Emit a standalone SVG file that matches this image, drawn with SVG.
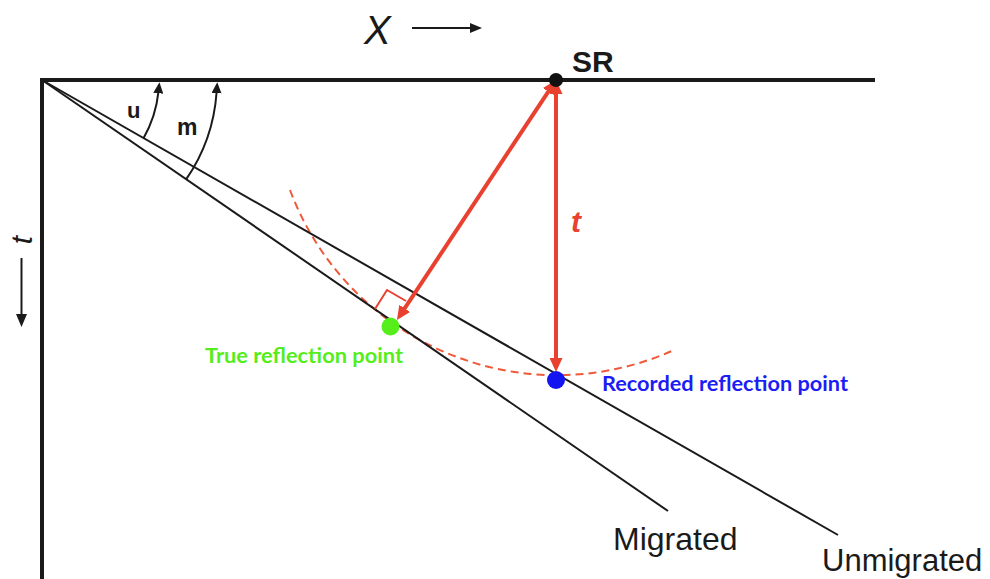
<svg xmlns="http://www.w3.org/2000/svg" width="990" height="579" viewBox="0 0 990 579">
<style>
.ink{stroke:#1a1a1a;fill:none}
.thin{stroke:#1a1a1a;stroke-width:2;fill:none}
.red{stroke:#e84130;stroke-width:4;fill:none}
.lbl{font-family:"Liberation Sans",Arial,sans-serif;fill:#1a1a1a}
.cal{font-family:Lato,"Open Sans",sans-serif;font-weight:bold}
</style>
<defs>
<marker id="redHead" markerUnits="userSpaceOnUse" markerWidth="14" markerHeight="13" viewBox="0 0 14 13" refX="4" refY="6.5" orient="auto-start-reverse">
<path d="M0,0 L14,6.5 L0,13 z" fill="#e84130"/>
</marker>
<marker id="blkHead" markerUnits="userSpaceOnUse" markerWidth="11" markerHeight="10" viewBox="0 0 11 10" refX="1" refY="5" orient="auto">
<path d="M0,0 L11,5 L0,10 z" fill="#1a1a1a"/>
</marker>
</defs>
<rect width="990" height="579" fill="#ffffff"/>

<g id="wavefront">
<path d="M290,190 A285,285 0 0 0 674,350" fill="none" stroke="#f0583a" stroke-width="2" stroke-dasharray="8 5"/>
</g>

<g id="reflectors">
<line id="migrated-line" class="thin" x1="42" y1="80" x2="668" y2="511"/>
<line id="unmigrated-line" class="thin" x1="42" y1="80" x2="838" y2="535"/>
</g>

<g id="angles">
<path d="M143.5,138.2 A117,117 0 0 0 158.4,92.2" class="thin" marker-end="url(#blkHead)"/>
<path d="M186.1,179.4 A175,175 0 0 0 216.6,92.2" class="thin" marker-end="url(#blkHead)"/>
<text class="lbl" x="127" y="118" font-size="22" font-weight="bold">u</text>
<text class="lbl" x="177" y="135" font-size="23" font-weight="bold">m</text>
</g>

<g id="connectors">
<line class="red" x1="556" y1="90" x2="556" y2="362" marker-start="url(#redHead)" marker-end="url(#redHead)"/>
<line class="red" x1="550.5" y1="88.3" x2="402.5" y2="311.7" marker-start="url(#redHead)" marker-end="url(#redHead)"/>
<path d="M375,309 L387,290 L406,301" fill="none" stroke="#e84130" stroke-width="2"/>
</g>

<g id="axes">
<path d="M42,579 V80 H875" class="ink" stroke-width="4" stroke-linejoin="miter"/>
<text class="lbl" x="364" y="44" font-size="40" font-style="italic">X</text>
<line x1="412" y1="28" x2="471" y2="28" stroke="#1a1a1a" stroke-width="2"/>
<polygon points="470,23 482,28 470,33" fill="#1a1a1a"/>
<text class="lbl" transform="translate(32,240) rotate(-90)" text-anchor="middle" font-size="30" font-style="italic">t</text>
<line x1="21.5" y1="258" x2="21.5" y2="315" stroke="#1a1a1a" stroke-width="2"/>
<polygon points="16,314 27,314 21.5,327" fill="#1a1a1a"/>
</g>

<g id="sr-node">
<circle cx="556" cy="80" r="7" fill="#111111"/>
<text class="lbl" x="572" y="72" font-size="30" font-weight="bold">SR</text>
</g>

<g id="t-label">
<text class="lbl" x="571" y="232" font-size="30" font-weight="bold" font-style="italic" style="fill:#e84130">t</text>
</g>

<g id="true-reflection-point">
<circle cx="390.5" cy="326.5" r="9" fill="#55ee1a"/>
<text class="cal" x="205" y="363" font-size="20" fill="#55ee1a" textLength="198" lengthAdjust="spacingAndGlyphs">True reflection point</text>
</g>

<g id="recorded-reflection-point">
<circle cx="556" cy="380" r="9" fill="#1414f0"/>
<text class="cal" x="602" y="391" font-size="20" fill="#1c1cf5" textLength="246" lengthAdjust="spacingAndGlyphs">Recorded reflection point</text>
</g>

<g id="migrated-label">
<text class="lbl" x="613" y="550" font-size="32">Migrated</text>
</g>
<g id="unmigrated-label">
<text class="lbl" x="822" y="571" font-size="31">Unmigrated</text>
</g>
</svg>
